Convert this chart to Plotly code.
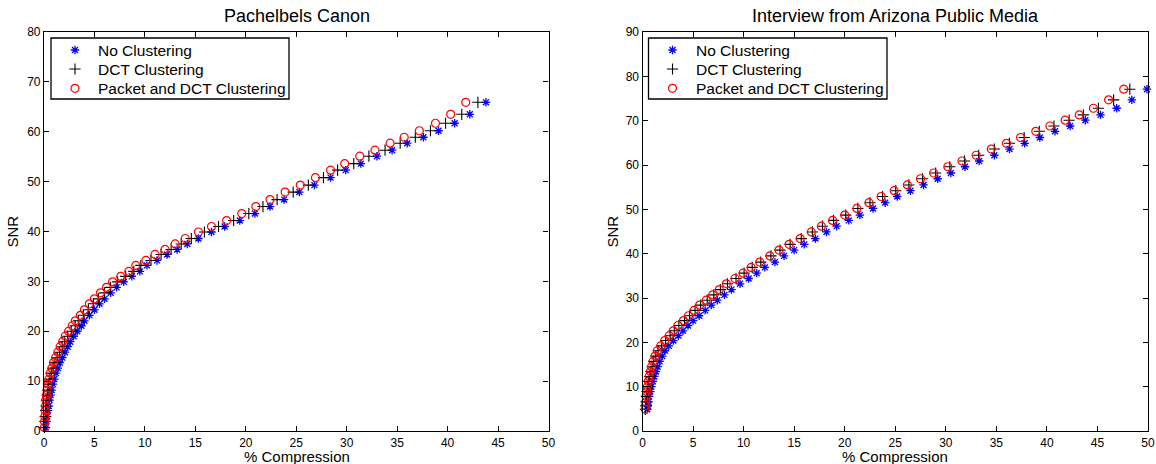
import plotly.graph_objects as go

# ---------------- data: Pachelbels Canon ----------------
left_snr = [0.7, 1.9, 2.9, 4.1, 5.0, 6.2, 7.2, 8.2, 9.4, 10.4,
            11.6, 12.6, 13.7, 14.7, 15.8, 16.9, 17.9, 19.0, 20.0, 21.1,
            22.1, 23.2, 24.3, 25.5, 26.5, 27.7, 28.8, 29.9, 31.0, 32.0,
            33.2, 34.2, 35.4, 36.4, 37.5, 38.6, 39.9, 41.0, 42.2, 43.6,
            45.0, 46.4, 47.9, 49.3, 50.8, 52.3, 53.6, 55.1, 56.3, 57.7,
            58.9, 60.2, 61.7, 63.5, 65.9]
left_none = [0.16, 0.24, 0.32, 0.40, 0.47, 0.55, 0.65, 0.76, 0.88, 1.03,
             1.19, 1.38, 1.58, 1.82, 2.08, 2.35, 2.6, 2.93, 3.3, 3.7,
             4.0, 4.5, 5.0, 5.5, 6.0, 6.6, 7.2, 7.9, 8.7, 9.5,
             10.2, 11.2, 12.2, 13.2, 14.2, 15.3, 16.6, 17.9, 19.4, 20.9,
             22.4, 23.8, 25.3, 26.8, 28.4, 29.9, 31.4, 33.0, 34.5, 36.0,
             37.6, 39.1, 40.7, 42.2, 43.8]
left_dct = [0.05, 0.08, 0.12, 0.16, 0.20, 0.24, 0.32, 0.39, 0.47, 0.58,
            0.72, 0.90, 1.08, 1.30, 1.55, 1.80, 2.05, 2.35, 2.7, 3.1,
            3.4, 3.9, 4.4, 4.9, 5.4, 6.0, 6.6, 7.3, 8.1, 8.9,
            9.6, 10.6, 11.6, 12.6, 13.6, 14.6, 15.9, 17.3, 18.8, 20.3,
            21.7, 23.1, 24.7, 26.2, 27.7, 29.1, 30.7, 32.2, 33.8, 35.3,
            36.8, 38.3, 39.8, 41.4, 43.0]
left_packet = [0.03, 0.05, 0.08, 0.12, 0.15, 0.18, 0.25, 0.31, 0.38, 0.48,
               0.61, 0.78, 0.94, 1.14, 1.37, 1.60, 1.84, 2.10, 2.43, 2.8,
               3.1, 3.6, 4.0, 4.5, 5.0, 5.6, 6.2, 6.8, 7.6, 8.4,
               9.1, 10.1, 11.0, 12.0, 13.0, 14.0, 15.3, 16.6, 18.1, 19.6,
               21.0, 22.4, 23.9, 25.4, 26.9, 28.4, 29.8, 31.3, 32.8, 34.3,
               35.7, 37.2, 38.8, 40.3, 41.8]

# ---------------- data: Interview from Arizona Public Media ----------------
right_snr = [4.9, 5.7, 6.6, 7.8, 8.9, 10.0, 11.2, 12.3, 13.4, 14.5,
             15.7, 16.9, 18.1, 19.2, 20.4, 21.5, 22.6, 23.8, 24.9, 26.0,
             27.2, 28.4, 29.5, 30.7, 31.9, 33.2, 34.4, 35.6, 36.9, 38.1,
             39.5, 40.8, 42.1, 43.4, 44.9, 46.2, 47.5, 48.7, 50.2, 51.5,
             52.9, 54.2, 55.5, 56.9, 58.2, 59.6, 60.9, 62.2, 63.6, 64.9,
             66.2, 67.6, 68.8, 70.1, 71.3, 72.8, 74.7, 77.1]
right_none = [0.47, 0.53, 0.59, 0.66, 0.77, 0.88, 1.02, 1.16, 1.33, 1.5,
              1.7, 1.95, 2.22, 2.6, 3.05, 3.55, 4.0, 4.5, 5.0, 5.6,
              6.2, 6.8, 7.4, 8.1, 8.8, 9.65, 10.5, 11.3, 12.1, 13.1,
              14.0, 15.0, 16.0, 17.1, 18.2, 19.2, 20.4, 21.5, 22.8, 24.0,
              25.2, 26.5, 27.8, 29.2, 30.5, 31.9, 33.3, 34.8, 36.3, 37.8,
              39.3, 40.8, 42.3, 43.8, 45.3, 46.9, 48.4, 49.9]
right_dct = [0.29, 0.31, 0.34, 0.39, 0.45, 0.52, 0.61, 0.71, 0.83, 0.96,
             1.11, 1.32, 1.54, 1.88, 2.28, 2.73, 3.14, 3.6, 4.15, 4.65,
             5.2, 5.75, 6.4, 7.05, 7.7, 8.4, 9.25, 10.05, 10.85, 11.7,
             12.7, 13.6, 14.6, 15.7, 16.8, 17.8, 18.9, 20.1, 21.3, 22.5,
             23.75, 25.05, 26.35, 27.7, 29.0, 30.4, 31.85, 33.25, 34.8, 36.3,
             37.75, 39.25, 40.7, 42.2, 43.6, 45.1, 46.6, 48.2]
right_packet = [0.27, 0.29, 0.32, 0.36, 0.42, 0.48, 0.57, 0.66, 0.78, 0.9,
                1.05, 1.25, 1.47, 1.8, 2.2, 2.65, 3.05, 3.5, 4.05, 4.55,
                5.1, 5.65, 6.3, 6.95, 7.6, 8.3, 9.15, 9.95, 10.75, 11.6,
                12.6, 13.5, 14.5, 15.6, 16.7, 17.7, 18.8, 20.0, 21.2, 22.4,
                23.6, 24.9, 26.2, 27.5, 28.8, 30.2, 31.6, 33.0, 34.5, 36.0,
                37.4, 38.9, 40.3, 41.8, 43.2, 44.6, 46.1, 47.6]

series_names = ["No Clustering", "DCT Clustering", "Packet and DCT Clustering"]
titles = ["Pachelbels Canon", "Interview from Arizona Public Media"]
x_ticks = [0, 5, 10, 15, 20, 25, 30, 35, 40, 45, 50]
left_y_ticks = [0, 10, 20, 30, 40, 50, 60, 70, 80]
right_y_ticks = [0, 10, 20, 30, 40, 50, 60, 70, 80, 90]

FONT = "Liberation Sans, Arial, Helvetica, sans-serif"
styles = [
    dict(symbol="asterisk-open", size=7, color="#0000ff", line=dict(color="#0000ff", width=1.3)),
    dict(symbol="cross-thin-open", size=8, color="#000000", line=dict(color="#000000", width=1.1)),
    dict(symbol="circle-open", size=8, color="#ff0000", line=dict(color="#ff0000", width=1.2)),
]

W, H = 1156, 464
L, R, T, B = 44, 8, 32, 33
pw, ph = W - L - R, H - T - B


def px(xp):
    return (xp - L) / pw


def py(yp):
    return (H - B - yp) / ph


fig = go.Figure()
panels = [
    ("x", "y", [left_none, left_dct, left_packet], left_snr),
    ("x2", "y2", [right_none, right_dct, right_packet], right_snr),
]
for xa, ya, comps, snr in panels:
    for name, comp, st in zip(series_names, comps, styles):
        fig.add_trace(go.Scatter(
            x=comp, y=snr, mode="markers", name=name, xaxis=xa, yaxis=ya,
            marker=st, cliponaxis=False, showlegend=False,
        ))

# ---- legend boxes (MATLAB style), drawn with shapes/annotations/key traces ----
legend_boxes = [  # pixel box: left, right, top, bottom ; key x, text x
    dict(l=51, r=289, t=38, b=99, kx=75, tx=96, xa="x3", ya="y3"),
    dict(l=648.5, r=887, t=38, b=99, kx=672.5, tx=693.5, xa="x4", ya="y4"),
]
row_y = [50, 69, 88.3]

shapes, ann = [], []
for lb in legend_boxes:
    shapes.append(dict(type="rect", xref="paper", yref="paper",
                       x0=px(lb["l"]), x1=px(lb["r"]), y0=py(lb["b"]), y1=py(lb["t"]),
                       line=dict(color="black", width=1.3), fillcolor="white", layer="below"))
    for name, st, ry in zip(series_names, styles, row_y):
        fig.add_trace(go.Scatter(
            x=[lb["kx"]], y=[ry], mode="markers", marker=st, xaxis=lb["xa"], yaxis=lb["ya"],
            showlegend=False, cliponaxis=False, hoverinfo="skip"))
        ann.append(dict(text=name, x=px(lb["tx"]), y=py(ry), xref="paper", yref="paper",
                        xanchor="left", yanchor="middle", showarrow=False,
                        font=dict(family=FONT, size=15.5, color="black")))

axis_common = dict(
    showline=True, linecolor="black", linewidth=1.2, mirror="ticks",
    ticks="inside", ticklen=5, tickwidth=1, tickcolor="black",
    showgrid=False, zeroline=False, automargin=False,
    tickfont=dict(family=FONT, size=12, color="black"),
)
hidden = dict(visible=False, showgrid=False, zeroline=False, fixedrange=True)

lb0, lb1 = legend_boxes
fig.update_layout(
    width=W, height=H,
    margin=dict(l=L, r=R, t=T, b=B, autoexpand=False),
    paper_bgcolor="white", plot_bgcolor="rgba(0,0,0,0)",
    font=dict(family=FONT, color="black"),
    showlegend=False,
    xaxis=dict(domain=[0, px(548.5)], range=[0, 50], tickvals=x_ticks, anchor="y", **axis_common),
    yaxis=dict(domain=[0, 1], range=[0, 80], tickvals=left_y_ticks, anchor="x", **axis_common),
    xaxis2=dict(domain=[px(642.5), 1], range=[0, 50], tickvals=x_ticks, anchor="y2", **axis_common),
    yaxis2=dict(domain=[0, 1], range=[0, 90], tickvals=right_y_ticks, anchor="x2", **axis_common),
    xaxis3=dict(domain=[px(lb0["l"]), px(lb0["r"])], range=[lb0["l"], lb0["r"]], anchor="y3", **hidden),
    yaxis3=dict(domain=[py(lb0["b"]), py(lb0["t"])], range=[lb0["b"], lb0["t"]], anchor="x3", **hidden),
    xaxis4=dict(domain=[px(lb1["l"]), px(lb1["r"])], range=[lb1["l"], lb1["r"]], anchor="y4", **hidden),
    yaxis4=dict(domain=[py(lb1["b"]), py(lb1["t"])], range=[lb1["b"], lb1["t"]], anchor="x4", **hidden),
)

for cx, title in zip([296.5, 895.3], titles):
    ann.append(dict(text=title, x=px(cx), y=py(16), xref="paper", yref="paper",
                    xanchor="center", yanchor="middle", showarrow=False,
                    font=dict(family=FONT, size=18, color="black")))
    ann.append(dict(text="% Compression", x=px(cx), y=py(456), xref="paper", yref="paper",
                    xanchor="center", yanchor="middle", showarrow=False,
                    font=dict(family=FONT, size=15, color="black")))
for sx in [12, 612]:
    ann.append(dict(text="SNR", x=px(sx), y=py(231.5), xref="paper", yref="paper",
                    xanchor="center", yanchor="middle", showarrow=False, textangle=-90,
                    font=dict(family=FONT, size=15, color="black")))
fig.update_layout(annotations=ann, shapes=shapes)

fig.write_html("out.html")
